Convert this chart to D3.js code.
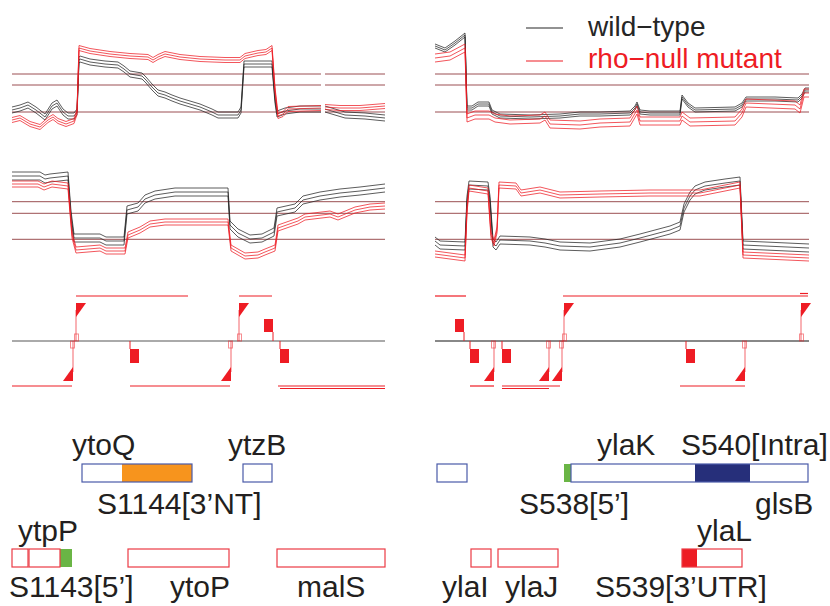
<!DOCTYPE html>
<html><head><meta charset="utf-8">
<script src="https://cdn.jsdelivr.net/npm/d3@7"></script>
<style>body{margin:0;background:#fff}</style>
</head><body>
<script>
// ---------- DATA ----------
// genome position (relative, bp) ; signal value (log scale units)
const leftTopWT = [[0,2.0],[80,2.2],[160,2.5],[240,2.0],[330,1.3],[400,2.4],[450,2.7],[510,1.8],[560,1.4],[620,1.4],[650,1.8],[670,7.0],[680,7.1],[780,6.8],[930,6.6],[1060,6.5],[1120,6.1],[1180,5.6],[1300,5.4],[1340,5.0],[1400,4.3],[1460,3.7],[1530,3.5],[1600,3.2],[1680,2.9],[1780,2.6],[1880,2.3],[2000,1.8],[2060,1.5],[2260,1.5],[2290,2.0],[2320,6.6],[2600,6.6],[2630,3.0],[2650,1.6],[2730,1.9],[2880,2.1],[3090,2.1],[null,null],[3130,2.1],[3230,1.8],[3330,1.5],[3530,1.4],[3730,1.2]];
const leftTopMut = [[0,1.0],[80,1.2],[180,0.6],[280,0.3],[360,1.0],[410,1.3],[460,0.9],[540,0.6],[620,0.9],[650,1.8],[670,8.2],[780,7.9],[980,7.6],[1180,7.4],[1360,7.3],[1410,7.0],[1460,7.3],[1530,7.6],[1680,7.3],[1880,7.1],[2130,7.0],[2280,7.0],[2330,7.4],[2460,7.7],[2540,7.8],[2600,8.2],[2630,4.0],[2660,1.4],[2710,1.6],[2760,2.1],[3090,2.2],[null,null],[3130,2.3],[3280,2.2],[3480,2.2],[3730,2.4]];
const rightTopWT = [[0,8.4],[100,8.0],[200,8.7],[300,9.5],[320,2.2],[370,2.2],[430,2.6],[540,2.6],[570,1.8],[650,1.4],[950,1.3],[1250,1.4],[1450,1.6],[1650,1.6],[1950,1.7],[2000,2.2],[2020,2.6],[2050,1.8],[2150,1.7],[2450,1.7],[2470,3.3],[2530,2.5],[2600,2.0],[3000,2.1],[3070,2.5],[3110,3.1],[3400,3.1],[3630,3.0],[3670,3.4],[3700,4.0],[3740,4.0]];
const rightTopMut = [[0,7.2],[150,7.4],[300,8.2],[320,1.2],[400,1.5],[540,1.5],[600,1.2],[750,1.0],[1050,1.1],[1100,1.4],[1150,0.6],[1450,0.5],[1650,0.7],[1950,0.8],[2020,2.0],[2050,0.9],[2450,0.9],[2470,1.4],[2550,0.8],[3000,0.9],[3070,1.7],[3110,2.7],[3600,2.5],[3650,2.1],[3690,3.7],[3740,3.7]];
const leftMidWT = [[0,9.4],[280,9.4],[330,9.1],[380,9.2],[560,9.4],[590,5.5],[620,3.2],[880,3.2],[940,2.9],[1120,2.9],[1150,6.0],[1260,6.3],[1330,7.1],[1430,7.5],[1630,7.8],[2160,7.8],[2180,4.5],[2260,3.7],[2380,3.1],[2500,3.2],[2620,3.8],[2650,5.8],[2830,6.2],[2910,7.0],[3080,7.4],[3280,7.7],[3480,7.9],[3730,8.2]];
const leftMidMut = [[0,8.6],[260,8.6],[320,8.3],[400,8.6],[560,8.4],[600,3.5],[640,2.0],[880,2.2],[940,1.9],[1130,1.9],[1160,3.5],[1280,4.0],[1380,4.6],[1530,4.8],[2160,4.8],[2190,2.2],[2330,1.4],[2460,1.5],[2530,1.8],[2630,2.2],[2660,4.2],[2860,4.9],[2930,5.3],[3180,5.6],[3260,5.3],[3430,6.0],[3580,6.3],[3730,6.4]];
const rightMidWT = [[0,2.9],[50,2.5],[300,2.4],[320,7.0],[340,8.5],[530,8.4],[550,7.0],[580,2.7],[610,2.4],[650,3.0],[950,2.9],[1100,2.7],[1250,2.4],[1550,2.3],[1850,2.7],[2050,3.2],[2200,3.6],[2350,4.0],[2450,4.4],[2490,6.2],[2550,7.4],[2600,8.0],[2700,8.4],[2900,8.7],[3050,8.9],[3080,2.5],[3740,2.2]];
const rightMidMut = [[0,1.6],[300,1.2],[320,6.0],[340,8.2],[530,7.9],[560,3.5],[590,2.7],[620,4.0],[640,8.5],[810,8.4],[860,7.7],[1050,8.0],[1250,7.5],[1650,7.6],[2150,7.7],[2650,7.7],[3050,8.5],[3080,1.5],[3740,1.2]];

// replicate shifts (signal units)
const shiftTopWT = [0.3, 0, -0.3];
const shiftTopMut = [0.25, 0, -0.25];
const shiftRightTopWT = [0.2, 0, -0.2];
const shiftRightTopMut = [0.4, 0, -0.4];
const shiftMidWT = [0.4, 0, -0.4];
const shiftMidMut = [0.3, 0, -0.3];

// threshold levels
const topRefLevels = [5.6, 4.5, 1.8];
const midRefLevels = [6.83, 5.67, 3.07];
const leftTopRefSegments = [[0, 3090], [3130, 3730]];

// transcription units
const tuAbove = [{p:"L",from:640,to:1760,lane:0},{p:"L",from:2270,to:2600,lane:0},
  {p:"R",from:0,to:310,lane:0},{p:"R",from:1280,to:3730,lane:0},{p:"R",from:3650,to:3730,lane:1}];
const tuBelow = [{p:"L",from:0,to:600,lane:0},{p:"L",from:1180,to:2180,lane:0},{p:"L",from:2660,to:3730,lane:0},{p:"L",from:2680,to:3730,lane:1},
  {p:"R",from:350,to:590,lane:0},{p:"R",from:670,to:1250,lane:0},{p:"R",from:670,to:1140,lane:1},{p:"R",from:2450,to:3100,lane:0}];
const promotersPlus = [{p:"L",pos:640},{p:"L",pos:2270},{p:"R",pos:1290},{p:"R",pos:3660}];
const promotersMinus = [{p:"L",pos:610},{p:"L",pos:2190},{p:"R",pos:590},{p:"R",pos:1140},{p:"R",pos:1270},{p:"R",pos:3100}];
const terminatorsAbove = [{p:"L",pos:2610},{p:"R",pos:290}];
const terminatorsBelow = [{p:"L",pos:1180},{p:"L",pos:2680},{p:"R",pos:350},{p:"R",pos:670},{p:"R",pos:2510}];

// genes
const genesTop = [{p:"L",from:700,to:1800},{p:"L",from:2310,to:2600},{p:"R",from:20,to:320},{p:"R",from:1360,to:3730}];
const genesBottom = [{p:"L",from:0,to:160},{p:"L",from:170,to:480},{p:"L",from:1160,to:2170},{p:"L",from:2650,to:3730},
  {p:"R",from:360,to:560},{p:"R",from:630,to:1230},{p:"R",from:2470,to:3070}];
const segmentsTop = [{p:"L",from:1100,to:1800,c:"#f7941d"},{p:"R",from:1290,to:1360,c:"#6ab545"},{p:"R",from:2600,to:3150,c:"#262f7a"}];
const segmentsBottom = [{p:"L",from:480,to:600,c:"#6ab545"},{p:"R",from:2470,to:2620,c:"#ed1c24"}];
const geneLabels = [
  {p:"L",pos:600,t:"ytoQ",row:0},{p:"L",pos:2160,t:"ytzB",row:0},{p:"L",pos:850,t:"S1144[3\u2019NT]",row:1},
  {p:"L",pos:60,t:"ytpP",row:2},{p:"L",pos:-30,t:"S1143[5\u2019]",row:3},{p:"L",pos:1580,t:"ytoP",row:3},{p:"L",pos:2850,t:"malS",row:3},
  {p:"R",pos:1620,t:"ylaK",row:0},{p:"R",pos:2460,t:"S540[Intra]",row:0},{p:"R",pos:840,t:"S538[5\u2019]",row:1},{p:"R",pos:3200,t:"glsB",row:1},
  {p:"R",pos:2620,t:"ylaL",row:2},{p:"R",pos:70,t:"ylaI",row:3},{p:"R",pos:700,t:"ylaJ",row:3},{p:"R",pos:1600,t:"S539[3\u2019UTR]",row:3}];
const legendItems = ["wild\u2212type", "rho\u2212null mutant"];

// ---------- LAYOUT ----------
const W = 830, H = 606;
const BLACK = "#262626", RED = "#ee1c24", REF = "#9b4f52";
const FONT = "Liberation Sans, Arial, sans-serif";
const svg = d3.select("body").append("svg").attr("width", W).attr("height", H);
const xs = {
  L: d3.scaleLinear().domain([0, 3730]).range([12, 385]),
  R: d3.scaleLinear().domain([0, 3740]).range([435, 809])
};
const yTop = d3.scaleLinear().domain([0, 10]).range([130, 30]);
const yMid = d3.scaleLinear().domain([0, 10]).range([270, 170]);

function refLines(x, y, levels, segs) {
  levels.forEach(v => segs.forEach(s => {
    svg.append("line").attr("x1", x(s[0])).attr("x2", x(s[1]))
      .attr("y1", y(v)).attr("y2", y(v)).attr("stroke", REF).attr("stroke-width", 1);
  }));
}
function curves(x, y, data, shifts, color) {
  shifts.forEach(s => {
    const line = d3.line().defined(d => d[0] != null)
      .x(d => x(d[0])).y(d => y(d[1] + s));
    svg.append("path").datum(data).attr("d", line).attr("fill", "none")
      .attr("stroke", color).attr("stroke-width", 1).attr("stroke-opacity", 0.75)
      .attr("stroke-linejoin", "round");
  });
}
refLines(xs.L, yTop, topRefLevels, leftTopRefSegments);
refLines(xs.R, yTop, topRefLevels, [xs.R.domain()]);
refLines(xs.L, yMid, midRefLevels, [xs.L.domain()]);
refLines(xs.R, yMid, midRefLevels, [xs.R.domain()]);

curves(xs.L, yTop, leftTopWT, shiftTopWT, BLACK);
curves(xs.L, yTop, leftTopMut, shiftTopMut, RED);
curves(xs.R, yTop, rightTopWT, shiftRightTopWT, BLACK);
curves(xs.R, yTop, rightTopMut, shiftRightTopMut, RED);
curves(xs.L, yMid, leftMidWT, shiftMidWT, BLACK);
curves(xs.L, yMid, leftMidMut, shiftMidMut, RED);
curves(xs.R, yMid, rightMidWT, shiftMidWT, BLACK);
curves(xs.R, yMid, rightMidMut, shiftMidMut, RED);

// legend
const lg = svg.append("g");
legendItems.forEach((t, i) => {
  const c = i === 0 ? BLACK : RED;
  lg.append("line").attr("x1", 526).attr("x2", 563).attr("y1", 28 + i * 33).attr("y2", 28 + i * 33)
    .attr("stroke", c).attr("stroke-width", 1.2);
  lg.append("text").attr("x", 588).attr("y", 36 + i * 32).text(t)
    .attr("font-family", FONT).attr("font-size", 28).attr("fill", c);
});

// annotation track
const BASE = 341;
svg.append("line").attr("x1", xs.L(0)).attr("x2", xs.L(3730)).attr("y1", BASE).attr("y2", BASE)
  .attr("stroke", "#aaaaaa").attr("stroke-width", 2);
svg.append("line").attr("x1", xs.R(0)).attr("x2", xs.R(3740)).attr("y1", BASE).attr("y2", BASE)
  .attr("stroke", "#888888").attr("stroke-width", 2);
const ann = svg.append("g");
tuAbove.forEach(d => ann.append("line").attr("x1", xs[d.p](d.from)).attr("x2", xs[d.p](d.to))
  .attr("y1", 296 - d.lane * 2.5).attr("y2", 296 - d.lane * 2.5).attr("stroke", RED).attr("stroke-width", 1.2));
tuBelow.forEach(d => ann.append("line").attr("x1", xs[d.p](d.from)).attr("x2", xs[d.p](d.to))
  .attr("y1", 386 + d.lane * 2.5).attr("y2", 386 + d.lane * 2.5).attr("stroke", RED).attr("stroke-width", 1.2));
promotersPlus.forEach(d => {
  const x = xs[d.p](d.pos);
  ann.append("line").attr("x1", x).attr("x2", x).attr("y1", BASE).attr("y2", 310)
    .attr("stroke", RED).attr("stroke-opacity", 0.45).attr("stroke-width", 1.5);
  ann.append("rect").attr("x", x - 1.5).attr("y", BASE - 7).attr("width", 4).attr("height", 7)
    .attr("fill", "none").attr("stroke", RED).attr("stroke-opacity", 0.5);
  ann.append("path").attr("d", `M${x},303L${x + 10},303L${x},317Z`).attr("fill", RED);
});
promotersMinus.forEach(d => {
  const x = xs[d.p](d.pos);
  ann.append("line").attr("x1", x).attr("x2", x).attr("y1", BASE).attr("y2", 372)
    .attr("stroke", RED).attr("stroke-opacity", 0.45).attr("stroke-width", 1.5);
  ann.append("rect").attr("x", x - 2.5).attr("y", BASE).attr("width", 4).attr("height", 7)
    .attr("fill", "none").attr("stroke", RED).attr("stroke-opacity", 0.5);
  ann.append("path").attr("d", `M${x},367L${x},381L${x - 10},381Z`).attr("fill", RED);
});
terminatorsAbove.forEach(d => {
  const x = xs[d.p](d.pos);
  ann.append("line").attr("x1", x).attr("x2", x).attr("y1", BASE).attr("y2", 332).attr("stroke", RED).attr("stroke-width", 1);
  ann.append("rect").attr("x", x - 9).attr("y", 319).attr("width", 9).attr("height", 13).attr("fill", RED);
});
terminatorsBelow.forEach(d => {
  const x = xs[d.p](d.pos);
  ann.append("line").attr("x1", x).attr("x2", x).attr("y1", BASE).attr("y2", 349).attr("stroke", RED).attr("stroke-width", 1);
  ann.append("rect").attr("x", x).attr("y", 349).attr("width", 9).attr("height", 14).attr("fill", RED);
});

// genes
const gg = svg.append("g");
const ROW_TOP = 464, ROW_BOT = 549, GH = 18;
segmentsTop.forEach(d => gg.append("rect").attr("x", xs[d.p](d.from)).attr("y", ROW_TOP)
  .attr("width", xs[d.p](d.to) - xs[d.p](d.from)).attr("height", GH).attr("fill", d.c));
segmentsBottom.forEach(d => gg.append("rect").attr("x", xs[d.p](d.from)).attr("y", ROW_BOT)
  .attr("width", xs[d.p](d.to) - xs[d.p](d.from)).attr("height", GH).attr("fill", d.c));
genesTop.forEach(d => gg.append("rect").attr("x", xs[d.p](d.from)).attr("y", ROW_TOP)
  .attr("width", xs[d.p](d.to) - xs[d.p](d.from)).attr("height", GH)
  .attr("fill", "none").attr("stroke", "#4a5aa8").attr("stroke-width", 1.2));
genesBottom.forEach(d => gg.append("rect").attr("x", xs[d.p](d.from)).attr("y", ROW_BOT)
  .attr("width", xs[d.p](d.to) - xs[d.p](d.from)).attr("height", GH)
  .attr("fill", "none").attr("stroke", "#ec3a44").attr("stroke-width", 1.2));
const rowBaselines = [455, 514, 541, 597];
geneLabels.forEach(d => gg.append("text").attr("x", xs[d.p](d.pos)).attr("y", rowBaselines[d.row])
  .text(d.t).attr("font-family", FONT).attr("font-size", 30).attr("fill", "#231f20"));
</script>
</body></html>
